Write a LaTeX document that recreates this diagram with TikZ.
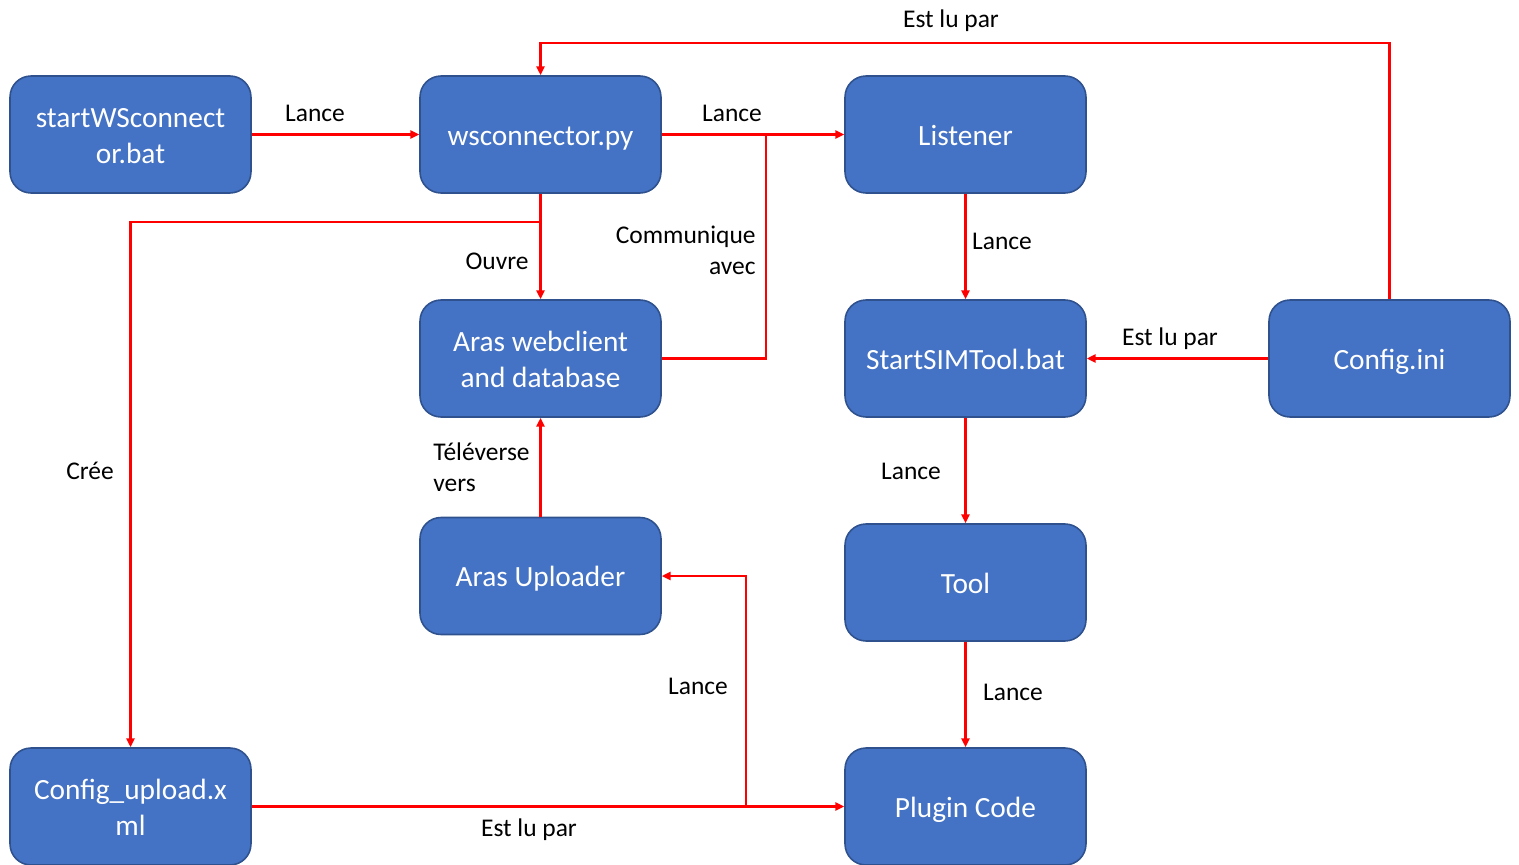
\documentclass[tikz,border=0pt]{standalone}
\usepackage{fontspec}
\setmainfont{Carlito}
\usetikzlibrary{arrows.meta}
\definecolor{boxfill}{HTML}{4472C4}
\definecolor{boxline}{HTML}{2F528F}
\definecolor{arrowred}{HTML}{FF0000}
\newcommand{\bxt}[1]{\raisebox{0pt}[\dimexpr\height+4.5pt\relax][\depth]{\begin{tabular}{@{}c@{}}#1\end{tabular}}}
\tikzset{
  box/.style={draw=boxline, fill=boxfill, line width=0.9pt, rounded corners=0.42cm,
    minimum width=4.82cm, minimum height=2.34cm, inner sep=0pt, text=white,
    font=\fontsize{16.7}{20}\selectfont},
  link/.style={draw=arrowred, line width=1.4pt},
  arr/.style={link, -{Triangle[length=5pt,width=4.5pt]}},
  lbl/.style={text=black, inner sep=0pt, font=\fontsize{14.5}{17.5}\selectfont}
}
\begin{document}
\begin{tikzpicture}[x=0.02cm,y=-0.02cm]
\useasboundingbox (0,0) rectangle (1519,865);
% boxes
\node[box] (startws) at (130.5,134.5) {\bxt{startWSconnect\\or.bat}};
\node[box] (ws) at (540.5,134.5) {\bxt{wsconnector.py}};
\node[box] (listener) at (965.5,134.5) {\bxt{Listener}};
\node[box] (web) at (540.5,358.5) {\bxt{Aras webclient\\and database}};
\node[box] (simtool) at (965.5,358.5) {\bxt{StartSIMTool.bat}};
\node[box] (ini) at (1389.5,358.5) {\bxt{Config.ini}};
\node[box] (upl) at (540.5,576) {\bxt{Aras Uploader}};
\node[box] (tool) at (965.5,582.5) {\bxt{Tool}};
\node[box] (cfgx) at (130.5,806.5) {\bxt{Config\_upload.x\\ml}};
\node[box] (plugin) at (965.5,806.5) {\bxt{Plugin Code}};
% junction coordinates
\coordinate (jcomm) at (766,134.5);
\coordinate (jcree) at (540.5,222);
\coordinate (jtop) at (965,43);
\coordinate (jupl) at (746,806.5);
% connectors
\draw[arr] (startws) -- (ws);
\draw[arr] (ws) -- (listener);
\draw[link] (web.east) -| (jcomm);
\draw[arr] (ws) -- (web);
\draw[arr] (jcree) -| (cfgx.north);
\draw[arr] (listener) -- (simtool);
\draw[arr] (ini) -- (simtool);
\draw[arr] (ini.north) |- (jtop) -| (ws.north);
\draw[arr] (simtool) -- (tool);
\draw[arr] (tool) -- (plugin);
\draw[arr] (upl) -- (web);
\draw[arr] (cfgx) -- (plugin);
\draw[arr] (jupl) |- (upl.east);
% labels
\node[lbl] (l1) at (315,113) {Lance};
\node[lbl] (l2) at (732,113) {Lance};
\node[lbl, align=right, anchor=east] (l3) at (756,250) {Communique\\avec};
\node[lbl] (l4) at (497,261) {Ouvre};
\node[lbl] (l5) at (90,471) {Crée};
\node[lbl] (l6) at (1002,241) {Lance};
\node[lbl] (l7) at (1170,339) {Est lu par};
\node[lbl] (l8) at (951,21) {Est lu par};
\node[lbl] (l9) at (911,471) {Lance};
\node[lbl] (l10) at (1013,692) {Lance};
\node[lbl, align=left, anchor=west] (l11) at (433,467) {Téléverse\\vers};
\node[lbl] (l12) at (529,830) {Est lu par};
\node[lbl] (l13) at (698,686) {Lance};
\end{tikzpicture}
\end{document}
